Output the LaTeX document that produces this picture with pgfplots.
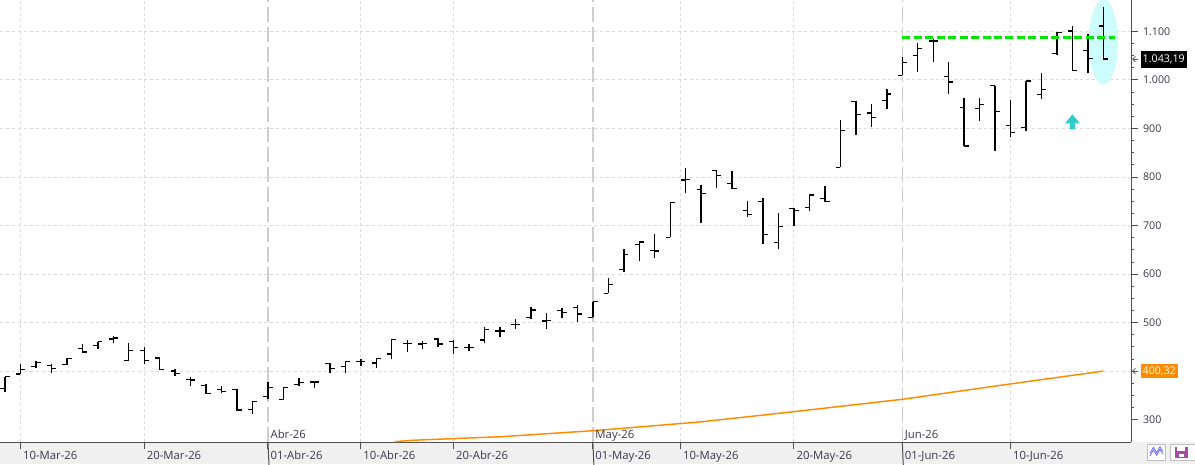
\documentclass[border=0pt]{standalone}
\usepackage{fontspec}
\setmainfont{Open Sans}
\usepackage{pgfplots}
\pgfplotsset{compat=1.18}
\usepackage{pgfplotstable}
\definecolor{grd}{HTML}{DADADA}
\definecolor{mgrd}{HTML}{CDCDCD}
\definecolor{axc}{HTML}{505050}
\definecolor{txt}{HTML}{3A3A48}
\definecolor{band}{HTML}{F0F0F0}
\definecolor{orng}{HTML}{FF8C00}
\definecolor{grn}{HTML}{00E600}
\definecolor{cyf}{HTML}{CCFCFC}
\definecolor{teal2}{HTML}{33CCCC}

\pgfplotstableread{
x O H L C
0 364.8 388.7 357.8 388.7
1 394.3 414.9 394.3 404.0
2 409.3 421.7 406.0 418.4
3 411.4 414.9 395.7 405.2
4 414.3 427.9 412.8 426.6
5 447.2 455.5 437.6 439.6
6 452.6 460.8 445.8 460.8
7 466.4 472.6 457.5 468.5
8 422.5 457.5 421.7 443.1
9 443.1 449.3 414.3 422.5
10 427.2 429.9 402.5 404.0
11 400.5 404.0 390.2 395.7
12 383.4 388.7 370.2 381.9
13 370.2 373.7 353.1 354.5
14 361.9 369.6 354.5 357.8
15 362.8 362.8 318.7 320.1
16 321.6 338.7 311.3 338.0
17 347.5 377.2 342.2 366.9
18 342.2 366.9 340.7 366.9
19 373.1 385.4 370.2 377.2
20 377.8 379.9 364.8 377.8
21 416.3 416.3 397.0 405.2
22 410.1 420.5 397.0 420.5
23 420.5 425.8 410.8 420.5
24 416.9 426.6 407.3 426.6
25 435.5 465.8 424.6 465.8
26 456.7 463.7 439.0 456.7
27 456.1 462.3 445.2 457.5
28 466.4 469.1 450.5 456.1
29 460.8 464.3 435.5 449.3
30 449.3 456.1 441.1 449.3
31 464.3 491.7 457.5 486.4
32 482.9 491.7 471.1 482.9
33 496.7 507.0 487.6 496.7
34 511.1 531.7 508.2 526.1
35 503.5 519.3 487.6 504.9
36 525.5 530.9 509.0 520.6
37 531.7 535.8 502.0 517.9
38 511.1 543.2 511.1 543.2
39 560.5 592.7 560.5 579.1
40 610.0 651.2 605.0 640.9
41 661.5 668.3 627.7 666.2
42 649.1 682.1 633.9 647.7
43 675.9 748.0 675.9 748.0
44 794.0 818.1 767.8 795.4
45 774.8 783.7 706.0 766.6
46 813.9 813.9 778.1 803.6
47 787.2 812.5 774.8 776.0
48 731.5 750.7 718.4 723.3
49 749.3 756.3 662.1 682.1
50 665.6 726.6 651.8 697.8
51 734.8 736.3 699.2 731.5
52 736.9 764.5 730.7 763.1
53 755.4 781.6 749.3 749.3
54 820.1 917.6 820.1 896.4
55 956.1 956.1 886.7 929.3
56 932.0 950.5 903.8 923.1
57 958.2 981.4 940.9 971.1
58 1009.7 1047.4 1009.7 1036.4
59 1050.9 1076.8 1017.1 1064.5
60 1080.3 1085.1 1037.7 1080.3
61 1007.6 1036.4 971.8 995.9
62 943.7 962.3 864.0 864.0
63 941.7 962.3 916.1 949.9
64 988.2 988.2 854.3 935.5
65 906.7 958.8 883.2 892.2
66 902.5 997.9 895.5 997.9
67 969.7 1013.8 960.2 980.8
68 1055.0 1098.3 1051.5 1098.3
69 1100.9 1111.2 1019.1 1019.9
70 1060.3 1094.1 1013.8 1044.7
71 1111.2 1149.8 1043.2 1043.19
}\ohlc

\begin{document}
\begin{tikzpicture}[x=1pt,y=1pt]
\fill[white] (0,0) rectangle (896.25,348);
\useasboundingbox (0,0) rectangle (896.25,348);
\fill[band] (0,0) rectangle (896.25,16.5);
\begin{axis}[
  at={(0pt,16.5pt)}, anchor=south west,
  scale only axis, width=848.25pt, height=331.5pt,
  xmin=-0.3232, xmax=72.786, ymin=254.2, ymax=1164.8,
  axis x line=bottom, axis y line=right,
  axis line style={draw=axc, line width=0.75pt, -},
  clip mode=individual,
  xtick={1,9,17,23,29,38,43.66,51,58,65}, xticklabels={},
  ytick={300,400,500,600,700,800,900,1000,1100},
  yticklabels={300,,500,600,700,800,900,1.000,1.100},
  minor y tick num=3,
  tick align=outside, major tick length=5.5pt, minor tick length=2.25pt,
  tick style={draw=axc, line width=0.75pt},
  yticklabel style={font=\fontsize{8}{9.6}\selectfont, text=txt, anchor=west},
]
% grid
\pgfplotsinvokeforeach{400,500,600,700,800,900,1000,1100}{
  \draw[grd, dash pattern=on 2.25pt off 2.25pt, line width=0.75pt] (axis cs:-0.3232,#1) -- (axis cs:72.786,#1);
}
\pgfplotsinvokeforeach{1,9,23,29,43.66,51,65}{
  \draw[grd, dash pattern=on 2.25pt off 2.25pt, line width=0.75pt] (axis cs:#1,254.2) -- (axis cs:#1,1164.8);
}
\pgfplotsinvokeforeach{17,38,58}{
  \draw[mgrd, dash pattern=on 11pt off 4pt, line width=1pt] (axis cs:#1,254.2) -- (axis cs:#1,1164.8);
  \draw[axc, line width=0.75pt] (axis cs:#1,254.2) -- ++(0,7pt);
}
% highlight ellipse
\fill[cyf] (axis cs:71,1078.3) ellipse [x radius=10.9pt, y radius=31.9pt];
% moving average
\addplot[orng, line width=1.1pt, mark=none] coordinates {
(25.2,255.0) (26.5,258.0) (32.0,265.0) (38.03,277.5) (44.93,295.5)
(51.39,318.1) (58.0,342.2) (64.96,373.7) (71,400.32)};
% OHLC bars
\addplot[black, line width=1.05pt, mark=none, quiver={u=0, v=\thisrow{H}-\thisrow{L}}] table[x=x, y=L] {\ohlc};
\addplot[black, line width=1.05pt, mark=none, quiver={u=-0.3, v=0}] table[x=x, y=O] {\ohlc};
\addplot[black, line width=1.05pt, mark=none, quiver={u=0.3, v=0}] table[x=x, y=C] {\ohlc};
% resistance line
\addplot[grn, line width=2.25pt, dash pattern=on 6pt off 2.6pt, mark=none] coordinates {(58,1088) (71.75,1088)};
% arrow
\coordinate (ab) at (axis cs:69,898.4);
\fill[teal2] ([xshift=-1.95pt]ab) -- ([xshift=-1.95pt,yshift=4.5pt]ab) -- ([xshift=-5.6pt,yshift=4.5pt]ab)
  -- ([yshift=11.25pt]ab) -- ([xshift=5.6pt,yshift=4.5pt]ab) -- ([xshift=1.95pt,yshift=4.5pt]ab)
  -- ([xshift=1.95pt]ab) -- cycle;
% date labels
\node[anchor=base west, inner sep=0pt, text=txt, font=\fontsize{8.5}{10}\selectfont, xshift=1.75pt, yshift=-12.75pt] at (axis cs:1,254.2) {10-Mar-26};
\node[anchor=base west, inner sep=0pt, text=txt, font=\fontsize{8.5}{10}\selectfont, xshift=1.75pt, yshift=-12.75pt] at (axis cs:9,254.2) {20-Mar-26};
\node[anchor=base west, inner sep=0pt, text=txt, font=\fontsize{8.5}{10}\selectfont, xshift=1.75pt, yshift=-12.75pt] at (axis cs:17,254.2) {01-Abr-26};
\node[anchor=base west, inner sep=0pt, text=txt, font=\fontsize{8.5}{10}\selectfont, xshift=1.75pt, yshift=-12.75pt] at (axis cs:23,254.2) {10-Abr-26};
\node[anchor=base west, inner sep=0pt, text=txt, font=\fontsize{8.5}{10}\selectfont, xshift=1.75pt, yshift=-12.75pt] at (axis cs:29,254.2) {20-Abr-26};
\node[anchor=base west, inner sep=0pt, text=txt, font=\fontsize{8.5}{10}\selectfont, xshift=1.75pt, yshift=-12.75pt] at (axis cs:38,254.2) {01-May-26};
\node[anchor=base west, inner sep=0pt, text=txt, font=\fontsize{8.5}{10}\selectfont, xshift=1.75pt, yshift=-12.75pt] at (axis cs:43.66,254.2) {10-May-26};
\node[anchor=base west, inner sep=0pt, text=txt, font=\fontsize{8.5}{10}\selectfont, xshift=1.75pt, yshift=-12.75pt] at (axis cs:51,254.2) {20-May-26};
\node[anchor=base west, inner sep=0pt, text=txt, font=\fontsize{8.5}{10}\selectfont, xshift=1.75pt, yshift=-12.75pt] at (axis cs:58,254.2) {01-Jun-26};
\node[anchor=base west, inner sep=0pt, text=txt, font=\fontsize{8.5}{10}\selectfont, xshift=1.75pt, yshift=-12.75pt] at (axis cs:65,254.2) {10-Jun-26};
\node[anchor=base west, inner sep=0pt, text=txt, font=\fontsize{8.5}{10}\selectfont, xshift=1.75pt, yshift=2.75pt] at (axis cs:17,254.2) {Abr-26};
\node[anchor=base west, inner sep=0pt, text=txt, font=\fontsize{8.5}{10}\selectfont, xshift=1.75pt, yshift=2.75pt] at (axis cs:38,254.2) {May-26};
\node[anchor=base west, inner sep=0pt, text=txt, font=\fontsize{8.5}{10}\selectfont, xshift=1.75pt, yshift=2.75pt] at (axis cs:58,254.2) {Jun-26};
\coordinate (v1) at (axis cs:72.786,1043.19);
\coordinate (v2) at (axis cs:72.786,400.32);
\end{axis}
% last value boxes
\node[fill=black, text=white, font=\fontsize{8}{9.6}\selectfont, inner xsep=1.3pt, inner ysep=0pt, minimum height=12.75pt, anchor=west] at ([xshift=7.3pt]v1) {1.043,19};
\node[fill=orng, text=white, font=\fontsize{8}{9.6}\selectfont, inner xsep=1.3pt, inner ysep=0pt, minimum height=11pt, anchor=west] at ([xshift=7.25pt]v2) {400,32};
\foreach \c in {v1,v2}{
  \draw[axc, line width=0.55pt] ([xshift=1.3pt]\c) -- ++(4.3pt,0);
  \draw[axc, line width=0.55pt] ([xshift=3.3pt,yshift=2pt]\c) -- ([xshift=1.3pt]\c) -- ([xshift=3.3pt,yshift=-2pt]\c);
}
% corner buttons
\draw[fill=white, draw=black!25, line width=0.5pt] (860.5,2.5) rectangle (873.75,14.8);
\draw[blue!60, line width=0.6pt] (862.5,6) -- (865,10.5) -- (867.5,6.5) -- (870,11) -- (872,7.5);
\draw[blue!60, line width=0.6pt] (862.5,8) -- (865,12.5) -- (867.5,8.5) -- (870,13) -- (872,9.5);
\draw[fill=white, draw=black!25, line width=0.5pt] (877.5,2.5) rectangle (900,14.8);
\fill[violet!70] (881,4.5) rectangle (891,13);
\fill[white] (883,9.5) rectangle (889,13);
\fill[white] (884,5) rectangle (888,7.5);
\end{tikzpicture}
\end{document}
